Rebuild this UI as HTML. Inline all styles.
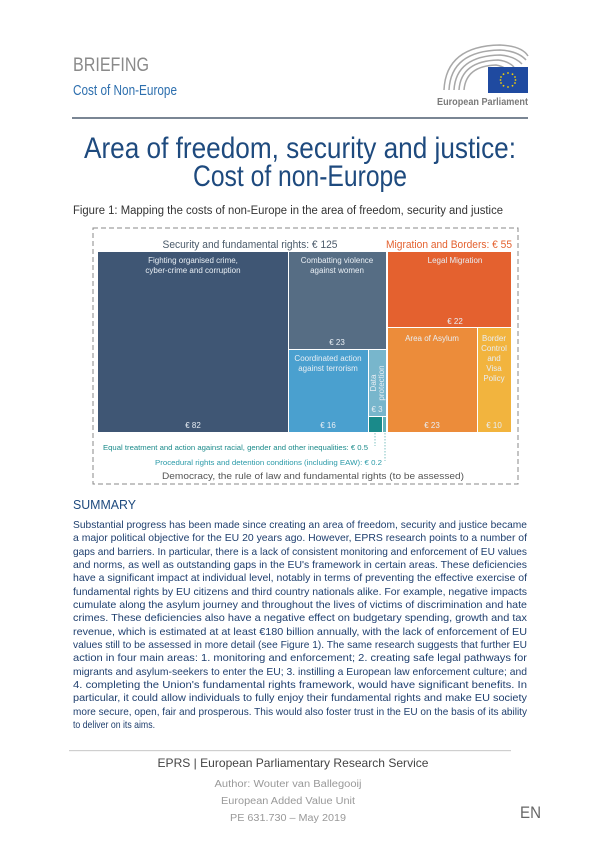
<!DOCTYPE html>
<html><head><meta charset="utf-8"><style>
html,body{margin:0;padding:0;background:#fff;}
svg{display:block;}
text{font-family:"Liberation Sans",sans-serif;}
</style></head><body>
<svg width="600" height="848" viewBox="0 0 600 848" xmlns="http://www.w3.org/2000/svg">
<text x="73" y="71" font-size="19" fill="#8a8a8a" textLength="76" lengthAdjust="spacingAndGlyphs">BRIEFING</text>
<text x="73" y="95" font-size="15" fill="#2d6fae" textLength="104" lengthAdjust="spacingAndGlyphs">Cost of Non-Europe</text>
<g fill="none" stroke="#a8a8a8" stroke-width="1.5">
<path d="M444 90 Q446 46 500 45 Q522 46 528 56"/>
<path d="M449 90 Q451 51 500 50 Q518 51 526 60"/>
<path d="M454 90 Q456 56 500 55 Q514 56 522 64"/>
<path d="M459 90 Q461 61 498 60 Q508 61 514 67"/>
<path d="M464 90 Q466 66 496 65 Q502 66 506 69"/>
</g>
<rect x="488" y="67" width="40" height="26" fill="#1f4aa0"/>
<g fill="#f5d000">
<circle cx="508" cy="73" r="0.9"/><circle cx="512.5" cy="74.2" r="0.9"/><circle cx="515" cy="77" r="0.9"/><circle cx="515.5" cy="80" r="0.9"/><circle cx="515" cy="83" r="0.9"/><circle cx="512.5" cy="85.8" r="0.9"/><circle cx="508" cy="87" r="0.9"/><circle cx="503.5" cy="85.8" r="0.9"/><circle cx="501" cy="83" r="0.9"/><circle cx="500.5" cy="80" r="0.9"/><circle cx="501" cy="77" r="0.9"/><circle cx="503.5" cy="74.2" r="0.9"/>
</g>
<text x="437" y="105" font-size="10" fill="#7a7a7a" font-weight="bold" textLength="91" lengthAdjust="spacingAndGlyphs">European Parliament</text>
<rect x="72" y="117" width="456" height="2" fill="#7a8694"/>
<text x="300" y="158" font-size="30" fill="#1e4a7e" text-anchor="middle" textLength="432" lengthAdjust="spacingAndGlyphs">Area of freedom, security and justice:</text>
<text x="300" y="186" font-size="30" fill="#1e4a7e" text-anchor="middle" textLength="214" lengthAdjust="spacingAndGlyphs">Cost of non-Europe</text>
<text x="73" y="214" font-size="11.5" fill="#333" textLength="430" lengthAdjust="spacingAndGlyphs">Figure 1: Mapping the costs of non-Europe in the area of freedom, security and justice</text>
<rect x="93" y="228" width="425" height="256" fill="none" stroke="#888" stroke-width="1" stroke-dasharray="5,3"/>
<text x="250" y="248" font-size="11" fill="#4a5a6a" text-anchor="middle" textLength="175" lengthAdjust="spacingAndGlyphs">Security and fundamental rights: € 125</text>
<text x="512" y="248" font-size="11" fill="#e4612f" text-anchor="end" textLength="126" lengthAdjust="spacingAndGlyphs">Migration and Borders: € 55</text>
<rect x="98" y="252" width="190" height="180" fill="#3f5674"/>
<rect x="289" y="252" width="97" height="97" fill="#566d84"/>
<rect x="289" y="350" width="79" height="82" fill="#4aa0cf"/>
<rect x="369" y="350" width="17" height="66" fill="#78b6cc"/>
<rect x="369" y="417" width="13" height="15" fill="#1a8a8a"/>
<rect x="383" y="417" width="3" height="15" fill="#5fb0b8"/>
<rect x="388" y="252" width="123" height="75" fill="#e4612f"/>
<rect x="388" y="328" width="89" height="104" fill="#ec8c3a"/>
<rect x="478" y="328" width="33" height="104" fill="#f2b43e"/>
<g fill="#e8eef4" font-size="8" text-anchor="middle">
<text x="193" y="263">Fighting organised crime,</text>
<text x="193" y="273">cyber-crime and corruption</text>
<text x="193" y="428">€ 82</text>
<text x="337" y="263">Combatting violence</text>
<text x="337" y="273">against women</text>
<text x="337" y="345">€ 23</text>
<text x="328" y="361">Coordinated action</text>
<text x="328" y="371">against terrorism</text>
<text x="328" y="428">€ 16</text>
<text x="377" y="412">€ 3</text>
<text transform="translate(376,383) rotate(-90)">Data</text>
<text transform="translate(384,383) rotate(-90)">protection</text>
<text x="455" y="263">Legal Migration</text>
<text x="455" y="324">€ 22</text>
<text x="432" y="341">Area of Asylum</text>
<text x="432" y="428">€ 23</text>
<text x="494" y="341">Border</text>
<text x="494" y="351">Control</text>
<text x="494" y="361">and</text>
<text x="494" y="371">Visa</text>
<text x="494" y="381">Policy</text>
<text x="494" y="428">€ 10</text>
</g>
<line x1="375" y1="433" x2="375" y2="446" stroke="#2a9a9a" stroke-width="0.6" stroke-dasharray="1.5,1.5"/>
<line x1="385" y1="433" x2="385" y2="461" stroke="#2a9a9a" stroke-width="0.6" stroke-dasharray="1.5,1.5"/>
<text x="103" y="450" font-size="7.5" fill="#1a8a8a" textLength="265" lengthAdjust="spacingAndGlyphs">Equal treatment and action against racial, gender and other inequalities: € 0.5</text>
<text x="155" y="465" font-size="7.5" fill="#2a9aa8" textLength="227" lengthAdjust="spacingAndGlyphs">Procedural rights and detention conditions (including EAW): € 0.2</text>
<text x="313" y="479" font-size="9.5" fill="#555" text-anchor="middle" textLength="302" lengthAdjust="spacingAndGlyphs">Democracy, the rule of law and fundamental rights (to be assessed)</text>
<text x="73" y="509" font-size="13" fill="#1e4a7e" textLength="63" lengthAdjust="spacingAndGlyphs">SUMMARY</text>
<g font-size="10.5" fill="#1f3f6e">
<text x="73" y="528" textLength="454" lengthAdjust="spacingAndGlyphs">Substantial progress has been made since creating an area of freedom, security and justice became</text>
<text x="73" y="541" textLength="454" lengthAdjust="spacingAndGlyphs">a major political objective for the EU 20 years ago. However, EPRS research points to a number of</text>
<text x="73" y="555" textLength="454" lengthAdjust="spacingAndGlyphs">gaps and barriers. In particular, there is a lack of consistent monitoring and enforcement of EU values</text>
<text x="73" y="568" textLength="454" lengthAdjust="spacingAndGlyphs">and norms, as well as outstanding gaps in the EU's framework in certain areas. These deficiencies</text>
<text x="73" y="581" textLength="454" lengthAdjust="spacingAndGlyphs">have a significant impact at individual level, notably in terms of preventing the effective exercise of</text>
<text x="73" y="595" textLength="454" lengthAdjust="spacingAndGlyphs">fundamental rights by EU citizens and third country nationals alike. For example, negative impacts</text>
<text x="73" y="608" textLength="454" lengthAdjust="spacingAndGlyphs">cumulate along the asylum journey and throughout the lives of victims of discrimination and hate</text>
<text x="73" y="621" textLength="454" lengthAdjust="spacingAndGlyphs">crimes. These deficiencies also have a negative effect on budgetary spending, growth and tax</text>
<text x="73" y="635" textLength="454" lengthAdjust="spacingAndGlyphs">revenue, which is estimated at at least €180 billion annually, with the lack of enforcement of EU</text>
<text x="73" y="648" textLength="454" lengthAdjust="spacingAndGlyphs">values still to be assessed in more detail (see Figure 1). The same research suggests that further EU</text>
<text x="73" y="661" textLength="454" lengthAdjust="spacingAndGlyphs">action in four main areas: 1. monitoring and enforcement; 2. creating safe legal pathways for</text>
<text x="73" y="675" textLength="454" lengthAdjust="spacingAndGlyphs">migrants and asylum-seekers to enter the EU; 3. instilling a European law enforcement culture; and</text>
<text x="73" y="688" textLength="454" lengthAdjust="spacingAndGlyphs">4. completing the Union's fundamental rights framework, would have significant benefits. In</text>
<text x="73" y="701" textLength="454" lengthAdjust="spacingAndGlyphs">particular, it could allow individuals to fully enjoy their fundamental rights and make EU society</text>
<text x="73" y="715" textLength="454" lengthAdjust="spacingAndGlyphs">more secure, open, fair and prosperous. This would also foster trust in the EU on the basis of its ability</text>
<text x="73" y="728" textLength="82" lengthAdjust="spacingAndGlyphs">to deliver on its aims.</text>
</g>
<rect x="69" y="750" width="442" height="1.2" fill="#cfcfcf"/>
<text x="293" y="767" font-size="12" fill="#444" text-anchor="middle" textLength="271" lengthAdjust="spacingAndGlyphs">EPRS | European Parliamentary Research Service</text>
<text x="288" y="787" font-size="10" fill="#999" text-anchor="middle" textLength="147" lengthAdjust="spacingAndGlyphs">Author: Wouter van Ballegooij</text>
<text x="288" y="804" font-size="10" fill="#999" text-anchor="middle" textLength="134" lengthAdjust="spacingAndGlyphs">European Added Value Unit</text>
<text x="288" y="821" font-size="10" fill="#999" text-anchor="middle" textLength="116" lengthAdjust="spacingAndGlyphs">PE 631.730  –  May 2019</text>
<text x="520" y="818" font-size="17" fill="#666" textLength="21" lengthAdjust="spacingAndGlyphs">EN</text>
</svg>
</body></html>
